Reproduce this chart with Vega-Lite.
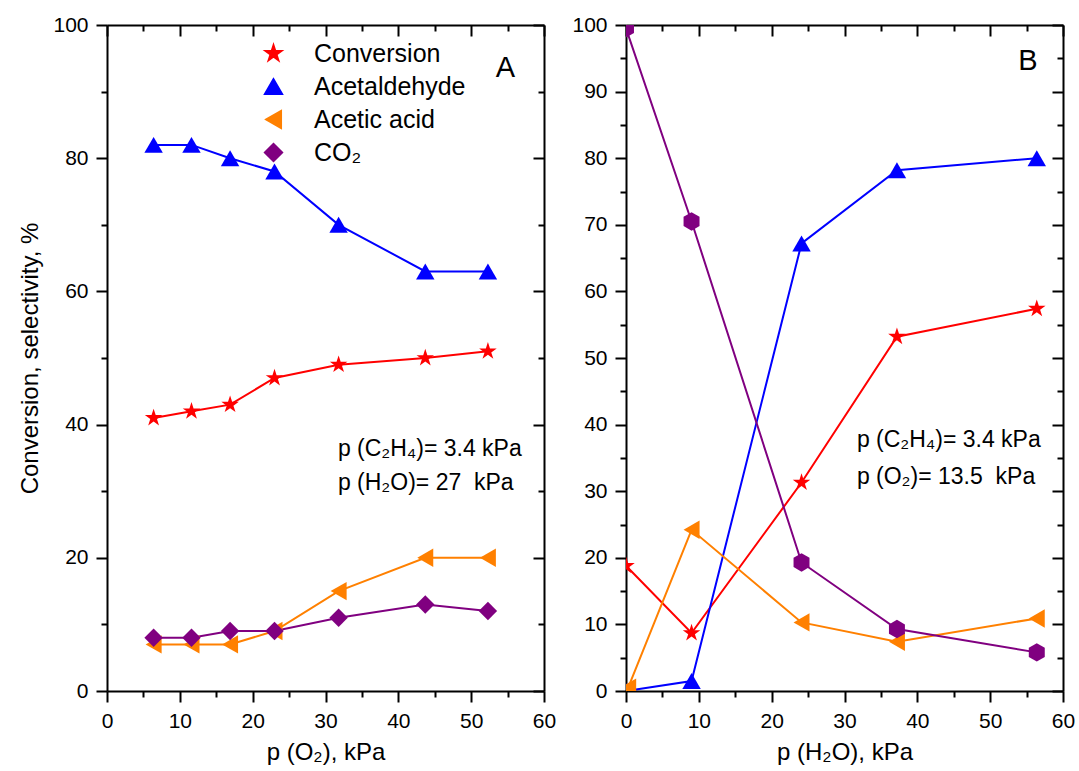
{
  "$schema": "https://vega.github.io/schema/vega-lite/v6.json",
  "padding": {"left": 18, "top": 14, "right": 5, "bottom": 5},
  "background": "white",
  "config": {
    "font": "Liberation Sans",
    "view": {"stroke": null},
    "axis": {
      "labelFont": "Liberation Sans", "labelFontSize": 21, "labelColor": "black",
      "titleFont": "Liberation Sans", "titleFontSize": 24, "titleFontWeight": "normal", "titleColor": "black",
      "domainColor": "black", "domainWidth": 2, "tickColor": "black", "tickWidth": 2,
      "grid": false, "labelPadding": 8, "labelOverlap": false, "labelFlush": false
    },
    "text": {"font": "Liberation Sans", "color": "black"}
  },
  "datasets": {
    "A": [
      {"p": 6.4, "series": "Conversion", "v": 41},
      {"p": 11.6, "series": "Conversion", "v": 42},
      {"p": 16.9, "series": "Conversion", "v": 43},
      {"p": 23.0, "series": "Conversion", "v": 47},
      {"p": 31.8, "series": "Conversion", "v": 49},
      {"p": 43.7, "series": "Conversion", "v": 50},
      {"p": 52.3, "series": "Conversion", "v": 51},
      {"p": 6.4, "series": "Acetaldehyde", "v": 82},
      {"p": 11.6, "series": "Acetaldehyde", "v": 82},
      {"p": 16.9, "series": "Acetaldehyde", "v": 80},
      {"p": 23.0, "series": "Acetaldehyde", "v": 78},
      {"p": 31.8, "series": "Acetaldehyde", "v": 70},
      {"p": 43.7, "series": "Acetaldehyde", "v": 63},
      {"p": 52.3, "series": "Acetaldehyde", "v": 63},
      {"p": 6.4, "series": "Acetic acid", "v": 7},
      {"p": 11.6, "series": "Acetic acid", "v": 7},
      {"p": 16.9, "series": "Acetic acid", "v": 7},
      {"p": 23.0, "series": "Acetic acid", "v": 9},
      {"p": 31.8, "series": "Acetic acid", "v": 15},
      {"p": 43.7, "series": "Acetic acid", "v": 20},
      {"p": 52.3, "series": "Acetic acid", "v": 20},
      {"p": 6.4, "series": "CO₂", "v": 8},
      {"p": 11.6, "series": "CO₂", "v": 8},
      {"p": 16.9, "series": "CO₂", "v": 9},
      {"p": 23.0, "series": "CO₂", "v": 9},
      {"p": 31.8, "series": "CO₂", "v": 11},
      {"p": 43.7, "series": "CO₂", "v": 13},
      {"p": 52.3, "series": "CO₂", "v": 12}
    ],
    "B": [
      {"p": 0, "series": "Conversion", "v": 18.8},
      {"p": 9.0, "series": "Conversion", "v": 8.7},
      {"p": 24.1, "series": "Conversion", "v": 31.3},
      {"p": 37.2, "series": "Conversion", "v": 53.2},
      {"p": 56.4, "series": "Conversion", "v": 57.4},
      {"p": 0, "series": "Acetaldehyde", "v": 0},
      {"p": 9.0, "series": "Acetaldehyde", "v": 1.5},
      {"p": 24.1, "series": "Acetaldehyde", "v": 67.2},
      {"p": 37.2, "series": "Acetaldehyde", "v": 78.2},
      {"p": 56.4, "series": "Acetaldehyde", "v": 80.0},
      {"p": 0.3, "series": "Acetic acid", "v": 0.5},
      {"p": 9.0, "series": "Acetic acid", "v": 24.2},
      {"p": 24.1, "series": "Acetic acid", "v": 10.3},
      {"p": 37.2, "series": "Acetic acid", "v": 7.4},
      {"p": 56.4, "series": "Acetic acid", "v": 10.9},
      {"p": 0, "series": "CO₂", "v": 99.5},
      {"p": 9.0, "series": "CO₂", "v": 70.5},
      {"p": 24.1, "series": "CO₂", "v": 19.3},
      {"p": 37.2, "series": "CO₂", "v": 9.3},
      {"p": 56.4, "series": "CO₂", "v": 5.8}
    ]
  },
  "spacing": 15,
  "resolve": {"scale": {"color": "independent", "shape": "independent"}, "legend": {"color": "independent", "shape": "independent"}},
  "hconcat": [
    {
      "width": 437, "height": 666,
      "data": {"name": "A"},
      "resolve": {"axis": {"x": "independent", "y": "independent"}},
      "layer": [
        {
          "mark": {"type": "line", "strokeWidth": 2, "clip": true},
          "encoding": {
            "x": {"field": "p", "type": "quantitative", "scale": {"domain": [0, 60], "nice": false},
              "axis": {"orient": "bottom", "title": "p (O₂), kPa", "titlePadding": 9,
                "values": [0,5,10,15,20,25,30,35,40,45,50,55,60],
                "labelExpr": "datum.value % 10 === 0 ? datum.label : ''",
                "tickSize": {"condition": {"test": "datum.value % 10 === 0", "value": 11}, "value": 6}}},
            "y": {"field": "v", "type": "quantitative", "scale": {"domain": [0, 100], "nice": false},
              "axis": {"orient": "left", "title": "Conversion, selectivity, %", "titlePadding": 10,
                "values": [0,10,20,30,40,50,60,70,80,90,100],
                "labelExpr": "datum.value % 20 === 0 ? datum.label : ''",
                "tickSize": {"condition": {"test": "datum.value % 20 === 0", "value": 11}, "value": 6}}},
            "color": {"field": "series", "type": "nominal",
              "scale": {"domain": ["Conversion", "Acetaldehyde", "Acetic acid", "CO₂"], "range": ["#ff0000", "#0000ff", "#ff8000", "#800080"]},
              "legend": {"title": null, "orient": "none", "legendX": 154, "legendY": 16, "padding": 0,
                "symbolSize": 324, "labelFontSize": 25, "labelFont": "Liberation Sans", "labelColor": "black",
                "labelOffset": 28, "rowPadding": 7}},
            "detail": {"field": "series"}
          }
        },
        {
          "mark": {"type": "point", "filled": true, "opacity": 1, "size": 340, "clip": true},
          "encoding": {
            "x": {"field": "p", "type": "quantitative",
              "axis": {"orient": "top", "title": null, "labels": false,
                "values": [0,5,10,15,20,25,30,35,40,45,50,55,60],
                "tickSize": {"condition": {"test": "datum.value % 10 === 0", "value": -11}, "value": -6}}},
            "y": {"field": "v", "type": "quantitative",
              "axis": {"orient": "right", "title": null, "labels": false,
                "values": [0,10,20,30,40,50,60,70,80,90,100],
                "tickSize": {"condition": {"test": "datum.value % 20 === 0", "value": -11}, "value": -6}}},
            "color": {"field": "series", "type": "nominal",
              "scale": {"domain": ["Conversion", "Acetaldehyde", "Acetic acid", "CO₂"], "range": ["#ff0000", "#0000ff", "#ff8000", "#800080"]},
              "legend": null},
            "shape": {"field": "series", "type": "nominal",
              "scale": {"domain": ["Conversion", "Acetaldehyde", "Acetic acid", "CO₂"],
                "range": ["M0,-1L0.2245,-0.309L0.951,-0.309L0.363,0.118L0.588,0.809L0,0.382L-0.588,0.809L-0.363,0.118L-0.951,-0.309L-0.2245,-0.309Z", "triangle-up", "triangle-left", "diamond"]},
              "legend": null}
          }
        },
        {
          "data": {"values": [{}]},
          "mark": {"type": "text", "text": "p (C₂H₄)= 3.4 kPa", "align": "left", "baseline": "middle", "fontSize": 23},
          "encoding": {"x": {"datum": 31.7, "type": "quantitative", "axis": null}, "y": {"datum": 36.3, "type": "quantitative", "axis": null}}
        },
        {
          "data": {"values": [{}]},
          "mark": {"type": "text", "text": "p (H₂O)= 27\u00a0 kPa", "align": "left", "baseline": "middle", "fontSize": 23},
          "encoding": {"x": {"datum": 31.7, "type": "quantitative", "axis": null}, "y": {"datum": 31.3, "type": "quantitative", "axis": null}}
        },
        {
          "data": {"values": [{}]},
          "mark": {"type": "text", "text": "A", "align": "center", "baseline": "middle", "fontSize": 29},
          "encoding": {"x": {"datum": 54.7, "type": "quantitative", "axis": null}, "y": {"datum": 93.6, "type": "quantitative", "axis": null}}
        }
      ]
    },
    {
      "width": 437, "height": 666,
      "data": {"name": "B"},
      "resolve": {"axis": {"x": "independent", "y": "independent"}},
      "layer": [
        {
          "mark": {"type": "line", "strokeWidth": 2, "clip": true},
          "encoding": {
            "x": {"field": "p", "type": "quantitative", "scale": {"domain": [0, 60], "nice": false},
              "axis": {"orient": "bottom", "title": "p (H₂O), kPa", "titlePadding": 9,
                "values": [0,5,10,15,20,25,30,35,40,45,50,55,60],
                "labelExpr": "datum.value % 10 === 0 ? datum.label : ''",
                "tickSize": {"condition": {"test": "datum.value % 10 === 0", "value": 11}, "value": 6}}},
            "y": {"field": "v", "type": "quantitative", "scale": {"domain": [0, 100], "nice": false},
              "axis": {"orient": "left", "title": null,
                "values": [0,5,10,15,20,25,30,35,40,45,50,55,60,65,70,75,80,85,90,95,100],
                "labelExpr": "datum.value % 10 === 0 ? datum.label : ''",
                "tickSize": {"condition": {"test": "datum.value % 10 === 0", "value": 11}, "value": 6}}},
            "color": {"field": "series", "type": "nominal",
              "scale": {"domain": ["Conversion", "Acetaldehyde", "Acetic acid", "CO₂"], "range": ["#ff0000", "#0000ff", "#ff8000", "#800080"]},
              "legend": null},
            "detail": {"field": "series"}
          }
        },
        {
          "mark": {"type": "point", "filled": true, "opacity": 1, "size": 340, "clip": true},
          "encoding": {
            "x": {"field": "p", "type": "quantitative",
              "axis": {"orient": "top", "title": null, "labels": false,
                "values": [0,5,10,15,20,25,30,35,40,45,50,55,60],
                "tickSize": {"condition": {"test": "datum.value % 10 === 0", "value": -11}, "value": -6}}},
            "y": {"field": "v", "type": "quantitative",
              "axis": {"orient": "right", "title": null, "labels": false,
                "values": [0,5,10,15,20,25,30,35,40,45,50,55,60,65,70,75,80,85,90,95,100],
                "tickSize": {"condition": {"test": "datum.value % 10 === 0", "value": -11}, "value": -6}}},
            "color": {"field": "series", "type": "nominal",
              "scale": {"domain": ["Conversion", "Acetaldehyde", "Acetic acid", "CO₂"], "range": ["#ff0000", "#0000ff", "#ff8000", "#800080"]},
              "legend": null},
            "shape": {"field": "series", "type": "nominal",
              "scale": {"domain": ["Conversion", "Acetaldehyde", "Acetic acid", "CO₂"],
                "range": ["M0,-1L0.2245,-0.309L0.951,-0.309L0.363,0.118L0.588,0.809L0,0.382L-0.588,0.809L-0.363,0.118L-0.951,-0.309L-0.2245,-0.309Z", "triangle-up", "triangle-left", "M0,-1L0.866,-0.5L0.866,0.5L0,1L-0.866,0.5L-0.866,-0.5Z"]},
              "legend": null}
          }
        },
        {
          "data": {"values": [{}]},
          "mark": {"type": "text", "text": "p (C₂H₄)= 3.4 kPa", "align": "left", "baseline": "middle", "fontSize": 23},
          "encoding": {"x": {"datum": 31.7, "type": "quantitative", "axis": null}, "y": {"datum": 37.7, "type": "quantitative", "axis": null}}
        },
        {
          "data": {"values": [{}]},
          "mark": {"type": "text", "text": "p (O₂)= 13.5\u00a0 kPa", "align": "left", "baseline": "middle", "fontSize": 23},
          "encoding": {"x": {"datum": 31.7, "type": "quantitative", "axis": null}, "y": {"datum": 32.2, "type": "quantitative", "axis": null}}
        },
        {
          "data": {"values": [{}]},
          "mark": {"type": "text", "text": "B", "align": "center", "baseline": "middle", "fontSize": 29},
          "encoding": {"x": {"datum": 55.2, "type": "quantitative", "axis": null}, "y": {"datum": 94.6, "type": "quantitative", "axis": null}}
        }
      ]
    }
  ]
}
